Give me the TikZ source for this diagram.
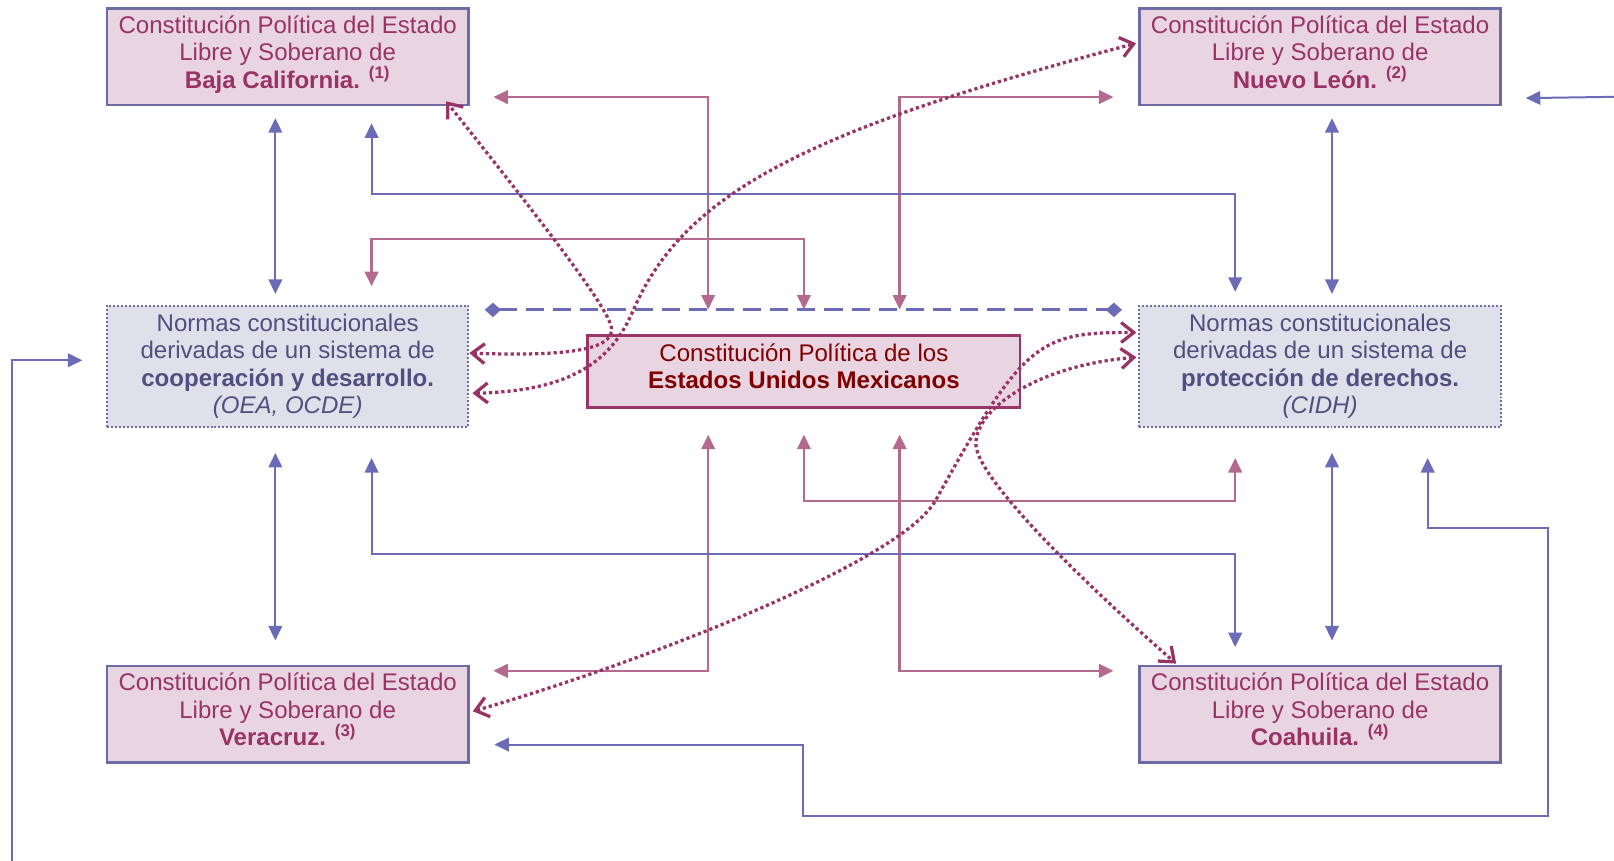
\documentclass[tikz,border=0pt]{standalone}
\usepackage{fontspec}
\setmainfont{Liberation Sans}
\usepackage{xcolor}
\usetikzlibrary{arrows.meta,positioning,calc}

\definecolor{statefill}{HTML}{E9D5E1}
\definecolor{normfill}{HTML}{E0E0EB}
\definecolor{stateborder}{HTML}{6B6BA6}
\definecolor{statetext}{HTML}{993366}
\definecolor{normtext}{HTML}{4F4F80}
\definecolor{fedtext}{HTML}{800000}
\definecolor{fedborder}{HTML}{9B3468}
\definecolor{linkpink}{HTML}{B4698F}
\definecolor{linkblue}{HTML}{6B6BB8}
\definecolor{linkdot}{HTML}{993366}

\begin{document}
\begin{tikzpicture}[x=0.2mm,y=-0.2mm,
    >={Triangle[length=8pt,width=7.5pt]},
    statebox/.style={draw=stateborder, line width=1.5pt, fill=statefill, text=statetext,
        minimum width=70.2mm, minimum height=18.8mm, align=center, inner sep=0pt,
        text depth=5.3pt, font=\fontsize{13.3}{15.2}\selectfont},
    normbox/.style={draw=stateborder, line width=1.1pt, dash pattern=on 1.1pt off 1.1pt,
        fill=normfill, text=normtext, minimum width=70.2mm, minimum height=23.6mm,
        align=center, inner sep=0pt, font=\fontsize{13.3}{15.2}\selectfont},
    fedbox/.style={draw=fedborder, line width=1.5pt, fill=statefill, text=fedtext,
        minimum width=84mm, minimum height=14mm, align=center, inner sep=0pt,
        text depth=5.9pt, font=\fontsize{13.3}{15.2}\selectfont},
    pinklink/.style={draw=linkpink, line width=1.3pt, <->},
    bluelink/.style={draw=linkblue, line width=1.1pt},
    dashlink/.style={draw=linkblue, line width=1.6pt, dash pattern=on 10pt off 5pt,
        {Diamond[length=9pt,width=8pt]}-{Diamond[length=9pt,width=8pt]}},
    dotlink/.style={draw=linkdot, line width=1.8pt, dash pattern=on 1.8pt off 1.6pt,
        {Straight Barb[length=7pt,width=11pt]}-{Straight Barb[length=7pt,width=11pt]}}]

    \useasboundingbox (0,0) rectangle (1568,836);

    % State constitutions
    \node[statebox] (BC) at (279.5,55) {Constitución Política del Estado\\Libre y Soberano de\\\textbf{Baja California. \textsuperscript{(1)}}};
    \node[statebox] (NL) at (1282.5,55) {Constitución Política del Estado\\Libre y Soberano de\\\textbf{Nuevo León. \textsuperscript{(2)}}};
    \node[statebox] (Ver) at (279.5,694) {Constitución Política del Estado\\Libre y Soberano de\\\textbf{Veracruz. \textsuperscript{(3)}}};
    \node[statebox] (Coa) at (1282.5,694) {Constitución Política del Estado\\Libre y Soberano de\\\textbf{Coahuila. \textsuperscript{(4)}}};

    % International norms
    \node[normbox] (LN) at (279.5,356) {Normas constitucionales\\derivadas de un sistema de\\\textbf{cooperación y desarrollo.}\\\textit{(OEA, OCDE)}};
    \node[normbox] (RN) at (1282.5,356) {Normas constitucionales\\derivadas de un sistema de\\\textbf{protección de derechos.}\\\textit{(CIDH)}};

    % Federal constitution
    \node[fedbox] (CPEUM) at (781,361) {Constitución Política de los\\\textbf{Estados Unidos Mexicanos}};

    % Pink links to the federal constitution
    \draw[pinklink] ([shift={(23,-9)}]BC.south east) -| ([shift={(-93,-24)}]CPEUM.north);
    \draw[pinklink] ([shift={(-24,-9)}]NL.south west) -| ([shift={(93,-24)}]CPEUM.north);
    \draw[pinklink] ([shift={(81.5,-18)}]LN.north) -- ++(0,-46) -| ([shift={(0,-24)}]CPEUM.north);
    \draw[pinklink] ([shift={(23,6)}]Ver.north east) -| ([shift={(-93,25)}]CPEUM.south);
    \draw[pinklink] ([shift={(-24,6)}]Coa.north west) -| ([shift={(93,25)}]CPEUM.south);
    \draw[pinklink] ([shift={(-82.5,29)}]RN.south) -- ++(0,42) -| ([shift={(0,25)}]CPEUM.south);

    % Blue links
    \draw[bluelink,<->] ([shift={(-12,11.5)}]BC.south) -- ([shift={(-12,-10.5)}]LN.north);
    \draw[bluelink,<->] ([shift={(11.5,11.5)}]NL.south) -- ([shift={(11.5,-10.5)}]RN.north);
    \draw[bluelink,<->] ([shift={(-12,24)}]LN.south) -- ([shift={(-12,-23.5)}]Ver.north);
    \draw[bluelink,<->] ([shift={(11.5,24)}]RN.south) -- ([shift={(11.5,-23.5)}]Coa.north);
    \draw[bluelink,<->] ([shift={(81.5,16.5)}]BC.south) -- ++(0,68.5) -| ([shift={(-82.5,-12.5)}]RN.north);
    \draw[bluelink,<->] ([shift={(81.5,29)}]LN.south) -- ++(0,93) -| ([shift={(-82.5,-17)}]Coa.north);
    \draw[bluelink,<->] ([shift={(104.5,29)}]RN.south) |- (1504,513) |- (780,793) |- ([shift={(24,-19)}]Ver.south east);
    \coordinate (edgeR) at (1572,94);
    \coordinate (edgeL) at (11.5,842);
    \draw[bluelink,->] (edgeR) -- ([shift={(23,-8)}]NL.south east);
    \draw[bluelink,->] (edgeL) |- ([shift={(-23,-6)}]LN.west);

    % Dashed link between norms
    \draw[dashlink] ([shift={(15,5)}]LN.north east) -- ([shift={(-16,5)}]RN.north west);

    % Dotted curves
    \draw[dotlink] ([shift={(0,-13)}]LN.east) .. controls (540,346) and (598,342) .. (594,318)
        .. controls (590,294) and (490,170) .. ([shift={(-23,-5)}]BC.south east);
    \draw[dotlink] ([shift={(3,26)}]LN.east) .. controls (565,380) and (597,343) .. (615,302)
        .. controls (665,185) and (790,125) .. ([shift={(-2,-13)}]NL.west);
    \draw[dotlink] ([shift={(3,-3)}]Ver.east) .. controls (620,645) and (876,546) .. (909,486)
        .. controls (995,330) and (1010,323) .. ([shift={(-2,-33)}]RN.west);
    \draw[dotlink] ([shift={(-2,-9)}]RN.west) .. controls (1010,355) and (950,395) .. (948,430)
        .. controls (946,460) and (1040,555) .. ([shift={(37,-1)}]Coa.north west);
\end{tikzpicture}
\end{document}
